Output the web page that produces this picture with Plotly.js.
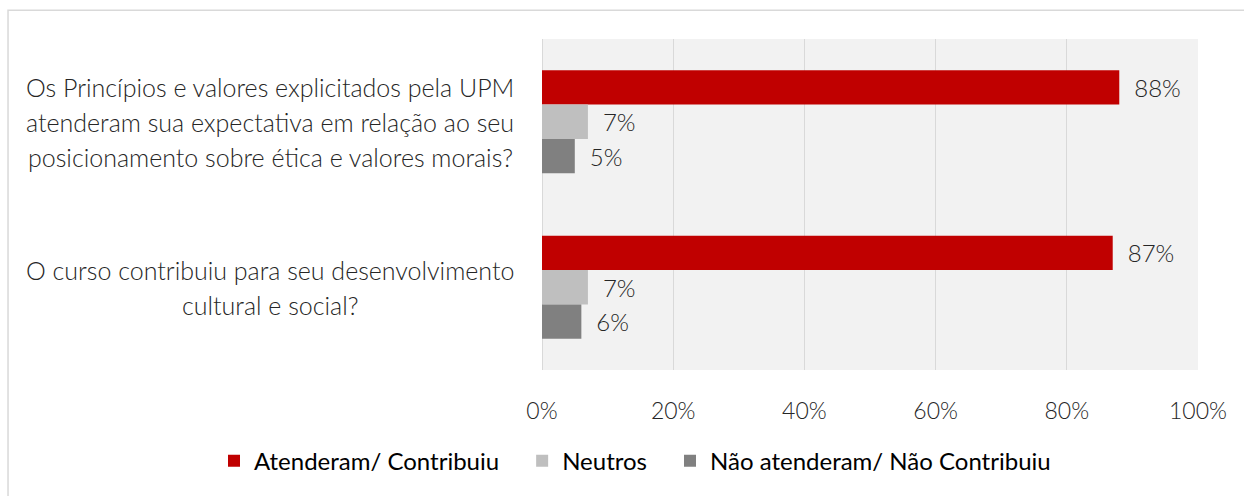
<!DOCTYPE html>
<html>
<head>
<meta charset="utf-8">
<script src="https://cdn.plot.ly/plotly-3.0.1.min.js"></script>
<style>
  html, body { margin: 0; padding: 0; background: #ffffff; }
  #chart { width: 1244px; height: 496px; }
</style>
</head>
<body>
<div id="chart"></div>
<script>
// ---- Data ----
const categories = [
  "Os Princípios e valores explicitados pela UPM<br>atenderam sua expectativa em relação ao seu<br>posicionamento sobre ética e valores morais?",
  "O curso contribuiu para seu desenvolvimento<br>cultural e social?"
];
const seriesNames = ["Atenderam/ Contribuiu", "Neutros", "Não atenderam/ Não Contribuiu"];
const atenderam = [88, 87];
const neutros = [7, 7];
const naoAtenderam = [5, 6];
const xTickValues = [0, 20, 40, 60, 80, 100];
const xTickLabels = ["0%", "20%", "40%", "60%", "80%", "100%"];

// ---- Styling ----
const colors = ["#c00000", "#bfbfbf", "#808080"];
const seriesValues = [atenderam, neutros, naoAtenderam];
const FONT = "Lato, 'Calibri Light', 'Open Sans', sans-serif";
const TXT = "#262626";
const LEGEND_PAD = "\u2003"; // extra spacing between legend entries

const traces = seriesNames.map((name, i) => ({
  type: "bar",
  orientation: "h",
  name: name + LEGEND_PAD,
  y: categories,
  x: seriesValues[i],
  marker: { color: colors[i], line: { width: 0 } },
  text: seriesValues[i].map(v => v + "%"),
  texttemplate: "\u2002%{text}",
  textposition: "outside",
  cliponaxis: false,
  textfont: { family: FONT, size: 24, color: TXT, weight: 300 },
  hoverinfo: "skip"
}));

// Category labels drawn as centered annotations, one per line
const annotations = [];
const lineGap = 35;
categories.forEach(cat => {
  const lines = cat.split("<br>");
  const n = lines.length;
  lines.forEach((ln, j) => {
    annotations.push({
      xref: "paper", yref: "y",
      x: -0.4146, y: cat,
      xanchor: "center", yanchor: "middle",
      text: ln, showarrow: false,
      yshift: ((n - 1) / 2 - j) * lineGap,
      font: { family: FONT, size: 25, color: TXT, weight: 300 }
    });
  });
});

const layout = {
  width: 1244,
  height: 496,
  margin: { l: 542, r: 46, t: 39, b: 123, pad: 0 },
  paper_bgcolor: "#ffffff",
  plot_bgcolor: "#f2f2f2",
  barmode: "group",
  bargap: 0.377,
  bargroupgap: 0,
  showlegend: true,
  legend: {
    orientation: "h",
    x: -0.5, xanchor: "left",
    y: -0.275, yanchor: "middle",
    font: { family: FONT, size: 24, color: "#000000" },
    itemwidth: 30,
    bgcolor: "rgba(0,0,0,0)"
  },
  xaxis: {
    range: [0, 100],
    tickvals: xTickValues,
    ticktext: xTickLabels,
    showgrid: true,
    gridcolor: "#d9d9d9",
    gridwidth: 1,
    zeroline: false,
    showline: false,
    ticks: "",
    ticklabelstandoff: 25,
    tickfont: { family: FONT, size: 23, color: TXT, weight: 300 },
    fixedrange: true
  },
  yaxis: {
    type: "category",
    autorange: "reversed",
    showticklabels: false,
    showgrid: false,
    zeroline: false,
    showline: false,
    ticks: "",
    fixedrange: true
  },
  annotations: annotations,
  shapes: [
    // chart frame (top and left edges visible)
    { type: "rect", xref: "paper", yref: "paper",
      x0: -0.814, x1: 1.5, y0: -1.0, y1: 1.087,
      line: { color: "#d9d9d9", width: 1.5 }, fillcolor: "rgba(0,0,0,0)", layer: "below" },
    // left axis line at 0%
    { type: "line", xref: "x", yref: "paper",
      x0: 0, x1: 0, y0: 0, y1: 1,
      line: { color: "#d9d9d9", width: 2 }, layer: "below" }
  ]
};

Plotly.newPlot("chart", traces, layout, { displayModeBar: false, staticPlot: true });
</script>
</body>
</html>
